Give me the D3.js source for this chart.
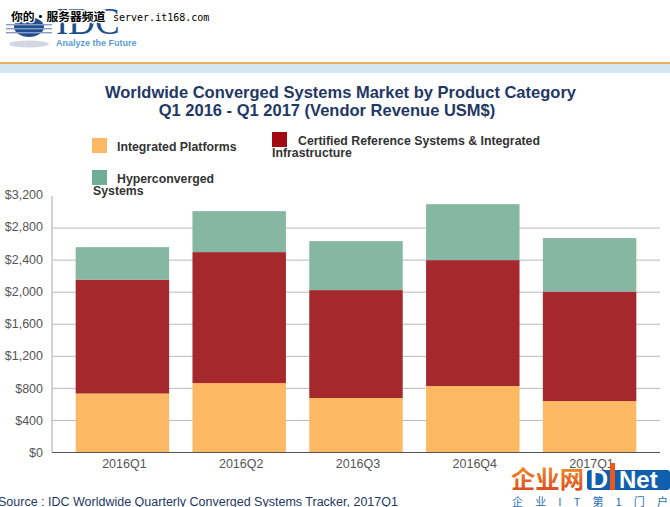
<!DOCTYPE html>
<html><head><meta charset="utf-8">
<script src="https://cdnjs.cloudflare.com/ajax/libs/d3/7.8.5/d3.min.js"></script>
<style>html,body{margin:0;padding:0;background:#fff;overflow:hidden}svg{display:block}</style>
</head><body><svg id="c" width="670" height="507"></svg>
<script>
const categories=["2016Q1","2016Q2","2016Q3","2016Q4","2017Q1"];
const integrated=[736,866,680,829,642];
const certified=[1421,1634,1346,1571,1366];
const hyper=[405,511,611,698,667];
const ticks=[0,400,800,1200,1600,2000,2400,2800,3200];
const colors=["#fdb863","#a5282c","#86b7a2"];
const svg=d3.select("#c");
const F="Liberation Sans, Arial, sans-serif";
function T(x,y,s,o={}){return svg.append("text").attr("x",x).attr("y",y).text(s)
 .attr("font-family",o.f||F).attr("font-size",o.s||12).attr("fill",o.c||"#333")
 .attr("font-weight",o.w||"normal").attr("text-anchor",o.a||"start");}
const defs=svg.append("defs");
const g=defs.append("linearGradient").attr("id","og").attr("x1",0).attr("x2",0).attr("y1",0).attr("y2",1);
g.append("stop").attr("offset",0).attr("stop-color","#f39a2c");
g.append("stop").attr("offset",1).attr("stop-color","#d9431a");
// page header band
svg.append("rect").attr("x",0).attr("y",62).attr("width",670).attr("height",2).attr("fill",'#e9b25f');
svg.append("rect").attr("x",0).attr("y",64).attr("width",670).attr("height",9).attr("fill",'#d5e5f3');
// logo
svg.append("ellipse").attr("cx",29).attr("cy",27).attr("rx",15).attr("ry",10).attr("fill","#1f4f8f");
[24,28,32].forEach(y=>svg.append("rect").attr("x",6).attr("y",y).attr("width",46).attr("height",1.4).attr("fill","#8a9cc4"));
svg.append("ellipse").attr("cx",29).attr("cy",44).attr("rx",20).attr("ry",3.5).attr("fill","#d4d6e4");
T(56,34,"IDC",{f:"Liberation Serif, serif",s:37,c:"#1d4f8c"});
T(56,46,"Analyze the Future",{s:9,c:"#5b9bd5",w:"bold"});
// watermark
T(11,21,"你的·服务器频道",{f:"Noto Sans CJK SC",s:11.8,c:"#000",w:"bold"}).attr("stroke","#fff").attr("stroke-width",2.6).attr("paint-order","stroke");
T(113,21,"server.it168.com",{f:"DejaVu Sans Mono, monospace",s:10,c:"#000"}).attr("stroke","#fff").attr("stroke-width",2.4).attr("paint-order","stroke");
// title
T(340.5,98,"Worldwide Converged Systems Market by Product Category",{s:16.5,w:"bold",c:"#1f3864",a:"middle"});
T(327,116,"Q1 2016 - Q1 2017 (Vendor Revenue USM$)",{s:16.5,w:"bold",c:"#1f3864",a:"middle"});
// legend
const lg=[[92,138,colors[0]],[272,132,"#a00a10"],[92,170,"#6fae96"]];
lg.forEach(d=>svg.append("rect").attr("x",d[0]).attr("y",d[1]).attr("width",15).attr("height",15).attr("fill",d[2]));
const L={s:12.3,w:"bold",c:"#333"};
T(117,151,"Integrated Platforms",L);
T(298,145,"Certified Reference Systems & Integrated",L);
T(272,157,"Infrastructure",L);
T(117,183,"Hyperconverged",L);
T(93,195,"Systems",L);
// scales
const x=d3.scaleBand().domain(categories).range([64,648]).paddingInner(0.2).paddingOuter(0.1);
const y=d3.scaleLinear().domain([0,3200]).range([452.5,196]);
// grid
svg.append("g").selectAll("line").data(ticks.slice(1,-1)).join("line")
 .attr("x1",52).attr("x2",660).attr("y1",d=>y(d)).attr("y2",d=>y(d)).attr("stroke","#bababa").attr("stroke-width",1);
svg.append("line").attr("x1",52).attr("x2",52).attr("y1",196).attr("y2",452).attr("stroke","#c4c4c4").attr("stroke-width",1.5);
// bars
const rows=categories.map((c,i)=>({c,a:integrated[i],b:certified[i],d:hyper[i]}));
const st=d3.stack().keys(["a","b","d"])(rows);
svg.append("g").selectAll("g").data(st).join("g").attr("fill",(d,i)=>colors[i])
 .selectAll("rect").data(d=>d).join("rect")
 .attr("x",d=>x(d.data.c)).attr("width",x.bandwidth())
 .attr("y",d=>y(d[1])).attr("height",d=>y(d[0])-y(d[1]));
svg.append("line").attr("x1",52).attr("x2",660).attr("y1",452.5).attr("y2",452.5).attr("stroke","#555").attr("stroke-width",1);
// axes labels
const fmt=d=>"$"+d3.format(",")(d);
svg.append("g").selectAll("text").data(ticks).join("text").attr("x",43).attr("y",d=>y(d)+4.5-d/3200*1.5)
 .attr("text-anchor","end").attr("font-family",F).attr("font-size",12.5).attr("fill","#555").text(fmt);
svg.append("g").selectAll("text").data(categories).join("text").attr("x",d=>x(d)+x.bandwidth()/2+2).attr("y",467.5)
 .attr("text-anchor","middle").attr("font-family",F).attr("font-size",12.5).attr("fill","#555").text(d=>d);
T(-2,506,"Source : IDC Worldwide Quarterly Converged Systems Tracker, 2017Q1",{s:12.5,c:"#1f3864"});
// bottom right logo
svg.append("rect").attr("x",511).attr("y",470).attr("width",75).attr("height",37).attr("fill","#fff");
T(511,488,"企业网",{f:"Noto Sans CJK SC",s:24,w:"bold",c:"url(#og)"}).attr("textLength",73).attr("lengthAdjust","spacingAndGlyphs");
svg.append("rect").attr("x",587).attr("y",470).attr("width",83).attr("height",20).attr("rx",3).attr("fill","#0f5fae");
T(590,488,"D",{s:25,w:"bold",c:"#fff"});
svg.append("rect").attr("x",610).attr("y",463).attr("width",5).attr("height",27).attr("fill","#e8591f");
T(619,488,"Net",{s:24,w:"bold",c:"#fff"});
svg.append("rect").attr("x",587).attr("y",490).attr("width",83).attr("height",17).attr("fill","#fff");
T(512,506,"企 业 I T 第 1 门 户",{f:"Noto Sans CJK SC",s:11,c:"#1f6fb5"}).attr("textLength",156);
</script></body></html>
